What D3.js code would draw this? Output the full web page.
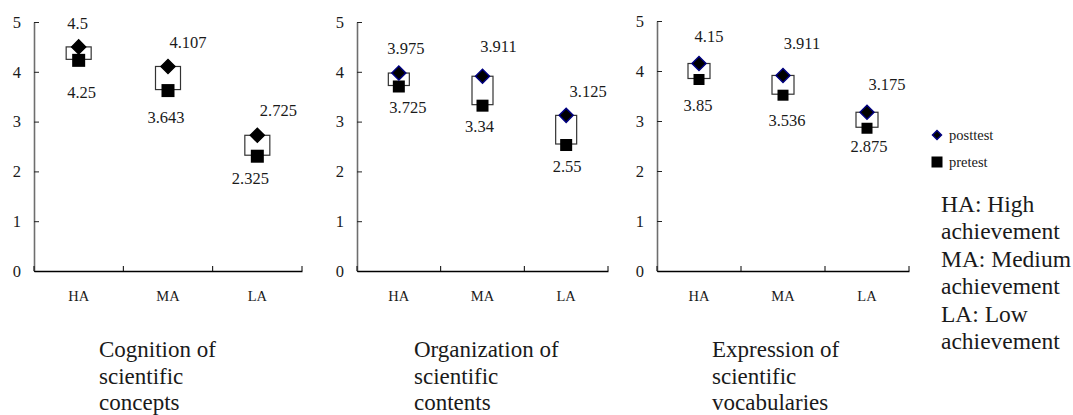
<!DOCTYPE html>
<html>
<head>
<meta charset="utf-8">
<script src="https://cdn.jsdelivr.net/npm/d3@7"></script>
<style>
  html, body { margin: 0; padding: 0; background: #fff; }
  svg { display: block; }
  text { font-family: "Liberation Serif", "Times New Roman", serif; fill: #1a1a1a; }
</style>
</head>
<body>
<svg id="chart" width="1073" height="415"></svg>
<script>
// ---------------- data ----------------
const categories = ["HA", "MA", "LA"];
const panelTitles = [
  ["Cognition of", "scientific", "concepts"],
  ["Organization of", "scientific", "contents"],
  ["Expression of", "scientific", "vocabularies"]
];
const posttest = [
  [4.5, 4.107, 2.725],
  [3.975, 3.911, 3.125],
  [4.15, 3.911, 3.175]
];
const pretest = [
  [4.25, 3.643, 2.325],
  [3.725, 3.34, 2.55],
  [3.85, 3.536, 2.875]
];
const postLabels = [
  ["4.5", "4.107", "2.725"],
  ["3.975", "3.911", "3.125"],
  ["4.15", "3.911", "3.175"]
];
const preLabels = [
  ["4.25", "3.643", "2.325"],
  ["3.725", "3.34", "2.55"],
  ["3.85", "3.536", "2.875"]
];
const yTicks = [0, 1, 2, 3, 4, 5];
const seriesNames = ["posttest", "pretest"];
const notes = ["HA: High", "achievement", "MA: Medium", "achievement", "LA: Low", "achievement"];

// ---------------- layout ----------------
const panels = [
  { x0: 34, x1: 302, y0: 271, y1: 22, titleX: 99, box: 25, sq: 13, dia: 14, diaStroke: "#000", postNudge: [[-1, -23], [20, -24], [21, -25]], preNudge: [[3, 33], [-2, 28], [-7, 23]] },
  { x0: 357, x1: 608, y0: 271, y1: 22, titleX: 414, box: 21, sq: 12, dia: 14, diaStroke: "#000080", postNudge: [[7, -25], [16, -30], [22, -24]], preNudge: [[9, 22], [-3, 22], [1, 22]] },
  { x0: 657, x1: 909, y0: 271, y1: 21, titleX: 712, box: 22, sq: 11, dia: 14, diaStroke: "#000080", postNudge: [[10, -27], [19, -32], [20, -28]], preNudge: [[-1, 27], [4, 26], [2, 19]] }
];

const svg = d3.select("#chart");

panels.forEach((p, i) => {
  const g = svg.append("g");
  const x = d3.scaleBand().domain(categories).range([p.x0, p.x1]).padding(0);
  const y = d3.scaleLinear().domain([0, 5]).range([p.y0, p.y1]);

  // y axis
  const ya = g.append("g").attr("transform", `translate(${p.x0},0)`)
    .call(d3.axisLeft(y).tickValues(yTicks).tickSize(-5).tickSizeOuter(0).tickPadding(13).tickFormat(d3.format("d")));
  ya.select(".domain").attr("stroke", "#6e6e6e").attr("stroke-width", 1.6);
  ya.selectAll(".tick line").attr("stroke", "#222");
  ya.selectAll("text").style("font-size", "16.5px").attr("fill", "#222").attr("font-family", "Liberation Serif");

  // x axis
  const xa = g.append("g").attr("transform", `translate(0,${p.y0})`)
    .call(d3.axisBottom(x).tickSize(0).tickPadding(20));
  xa.select(".domain").attr("stroke", "#000").attr("stroke-width", 1.3);
  xa.selectAll("text").style("font-size", "14.5px").attr("fill", "#222").attr("font-family", "Liberation Serif");
  const edges = [x.range()[0]].concat(categories.map(c => x(c) + x.bandwidth()));
  xa.selectAll("line.edge").data(edges).enter().append("line")
    .attr("class", "edge")
    .attr("x1", d => d).attr("x2", d => d)
    .attr("y1", 0).attr("y2", -5)
    .attr("stroke", "#000").attr("stroke-width", 1);

  // up-down boxes
  categories.forEach((c, j) => {
    const cx = x(c) + x.bandwidth() / 2;
    const top = y(Math.max(posttest[i][j], pretest[i][j]));
    const bot = y(Math.min(posttest[i][j], pretest[i][j]));
    g.append("rect")
      .attr("x", cx - p.box / 2).attr("y", top)
      .attr("width", p.box).attr("height", bot - top)
      .attr("fill", "#fff").attr("stroke", "#333").attr("stroke-width", 1.2);
  });

  // pretest squares
  g.selectAll("rect.pre").data(pretest[i]).enter().append("rect")
    .attr("class", "pre")
    .attr("x", (d, j) => x(categories[j]) + x.bandwidth() / 2 - p.sq / 2)
    .attr("y", d => y(d) - p.sq / 2 + 1)
    .attr("width", p.sq).attr("height", p.sq)
    .attr("fill", "#000");

  // posttest diamonds
  const dsym = d3.symbol().type(d3.symbolSquare).size(p.dia * p.dia / 2);
  g.selectAll("path.post").data(posttest[i]).enter().append("path")
    .attr("class", "post")
    .attr("d", dsym)
    .attr("transform", (d, j) => `translate(${x(categories[j]) + x.bandwidth() / 2},${y(d)}) rotate(45)`)
    .attr("fill", "#000").attr("stroke", p.diaStroke).attr("stroke-width", 1.5);

  // data labels
  g.selectAll("text.postl").data(posttest[i]).enter().append("text")
    .attr("class", "postl")
    .attr("x", (d, j) => x(categories[j]) + x.bandwidth() / 2 + p.postNudge[j][0])
    .attr("y", (d, j) => y(d) + p.postNudge[j][1])
    .attr("text-anchor", "middle").attr("dominant-baseline", "central")
    .style("font-size", "16.5px")
    .text((d, j) => postLabels[i][j]);
  g.selectAll("text.prel").data(pretest[i]).enter().append("text")
    .attr("class", "prel")
    .attr("x", (d, j) => x(categories[j]) + x.bandwidth() / 2 + p.preNudge[j][0])
    .attr("y", (d, j) => y(d) + p.preNudge[j][1])
    .attr("text-anchor", "middle").attr("dominant-baseline", "central")
    .style("font-size", "16.5px")
    .text((d, j) => preLabels[i][j]);

  // panel title
  const t = g.append("text").attr("x", p.titleX).attr("y", 357).style("font-size", "23px");
  panelTitles[i].forEach((line, k) => {
    t.append("tspan").attr("x", p.titleX).attr("dy", k === 0 ? 0 : 26.5).text(line);
  });
});

// legend
const lg = svg.append("g").attr("transform", "translate(937,135)");
lg.append("path").attr("d", d3.symbol().type(d3.symbolSquare).size(40))
  .attr("transform", "rotate(45)").attr("fill", "#000").attr("stroke", "#000080").attr("stroke-width", 1.5);
lg.append("rect").attr("x", -5.5).attr("y", 21.5).attr("width", 11).attr("height", 11).attr("fill", "#000");
lg.selectAll("text").data(seriesNames).enter().append("text")
  .attr("x", 12).attr("y", (d, k) => k * 27)
  .attr("dominant-baseline", "central")
  .style("font-size", "14.5px").attr("fill", "#222")
  .text(d => d);

// notes
const nt = svg.append("text").attr("x", 941).attr("y", 212).style("font-size", "23.5px");
notes.forEach((line, k) => {
  nt.append("tspan").attr("x", 941).attr("dy", k === 0 ? 0 : 27.4).text(line);
});
</script>
</body>
</html>
